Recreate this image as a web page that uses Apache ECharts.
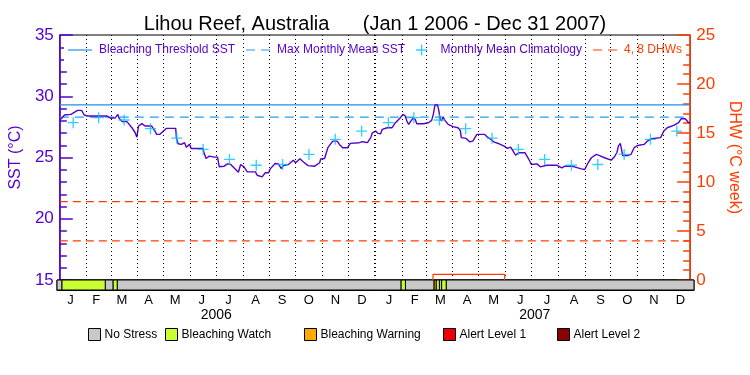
<!DOCTYPE html>
<html><head><meta charset="utf-8">
<script src="https://cdn.jsdelivr.net/npm/echarts@6/dist/echarts.min.js"></script>
<style>html,body{margin:0;padding:0;background:#fff}#c{width:750px;height:375px}</style>
</head><body><div id="c"></div>
<script>
const titleText = 'Lihou Reef, Australia      (Jan 1 2006 - Dec 31 2007)';
const monthStarts = [0,31,59,90,120,151,181,212,243,273,304,334,365,396,424,455,485,516,546,577,608,638,669,699,730];
const monthLetters = ['J','F','M','A','M','J','J','A','S','O','N','D','J','F','M','A','M','J','J','A','S','O','N','D'];
const yearLabels = ['2006','2007'];
const yearMids = [182.5, 547.5];
const sstDays = [0,5.4,12.9,20.6,25.2,28.3,32,43.5,54.9,58.7,64.4,67.2,68.7,72.1,77.8,83.5,87.3,89.2,91.2,95,98.7,106.4,110.2,112.1,115.9,123.6,134.2,135,137,140.7,144.5,146.5,150.2,152.2,165.6,167.4,169.3,173.1,178.8,182.7,184.6,190.3,194.2,197.9,201.7,206.8,209.4,213.2,217.1,226.6,228.5,234.2,238,241.8,243.7,249.4,253.2,256.3,258.9,264.7,270.4,273.1,278,281.8,287.5,295.2,300.9,302.1,306.6,310.4,316.1,321.2,323.8,327.6,333.3,336.4,346.7,350.5,356.2,360.1,361.9,365.8,368.4,371.5,373.4,379.1,384.8,388.7,394.4,397.4,400.1,401.9,403.9,405.8,408.8,411.6,413.4,421.1,426.8,430.6,432.5,434.5,437.4,439,440.2,442,444,445.9,449.7,455.4,461.1,463.8,464.9,470.6,474.5,478.3,482.9,491.7,495.4,499.2,503.1,508.8,514.5,518.3,522.1,526,527.8,531.7,538.6,543.2,546.1,552.6,556.4,564.1,575.5,581.3,585,587,592.7,604.1,607.9,611.8,615.6,621.3,625.1,630.8,638.5,642.3,645.3,646.8,649.1,650.7,651.9,657.6,661.4,665.1,669,676.6,680.5,682.3,685.1,695.7,699.5,703.4,710.9,716.6,719.4,724.3,728.1,730];
const sstValues = [28.03,28.47,28.52,28.85,28.85,28.47,28.39,28.39,28.39,28.2,28.25,28.52,28.2,27.93,27.93,27.43,27.02,26.66,27.57,27.76,27.57,27.57,27.16,26.89,26.89,27.38,27.38,26.62,26.12,26.07,26.21,25.84,26.07,25.74,25.74,25.3,24.92,25.11,25.03,25.03,24.24,24.29,24.48,24.43,24.16,23.8,24.43,24.24,23.83,23.83,23.55,23.42,23.75,23.75,24.07,24.51,24.48,24.1,24.34,24.43,24.78,24.57,24.89,24.65,24.34,24.29,24.57,24.89,24.92,25.8,26.34,26.34,26.07,25.8,25.8,26.15,26.21,26.29,26.21,26.62,27.02,27.16,26.97,26.94,27.3,27.43,27.43,27.84,28.25,28.52,28.39,27.98,27.7,27.84,28.2,28.11,27.76,27.76,27.84,28.03,28.52,29.29,29.29,28.8,28.2,27.98,28.3,28.03,27.7,27.52,27.43,27.21,26.62,26.56,26.29,26.34,26.89,26.89,26.66,26.48,26.25,26.12,25.93,25.74,25.84,25.39,25.19,25.39,25.39,24.84,24.43,24.48,24.24,24.37,24.37,24.16,24.29,24.43,24.29,24.07,24.02,24.57,24.98,25.25,25.16,24.98,24.78,25.06,25.43,25.93,26.15,26.07,25.16,25.16,25.25,25.8,25.98,26.07,26.34,26.21,26.53,26.62,27.16,27.43,27.62,27.84,28.16,28.16,27.84,27.87];
const climatology = [27.84,28.25,28.06,27.35,26.58,25.66,24.84,24.37,24.43,25.25,26.48,27.16];
const bleachingThreshold = 29.3;
const maxMonthlyMean = 28.3;
const dhwLevels = [4, 8];
const dhwDays = [432.2, 432.2, 515.2, 515.2];
const dhwValues = [0, 0.58, 0.58, 0];
const stressNames = ['No Stress','Bleaching Watch','Bleaching Warning','Alert Level 1','Alert Level 2'];
const stressColors = ['#c8c8c8','#c8ff32','#ffaa00','#ee0000','#8b0000'];
const stressStart = [0, 5.7, 55.3, 64.4, 69, 394.4, 399.3, 432.2, 434.5, 438.2, 440.8, 446];
const stressEnd   = [5.7, 55.3, 64.4, 69, 394.4, 399.3, 432.2, 434.5, 438.2, 440.8, 446, 730];
const stressLevel = [0, 1, 0, 1, 0, 1, 0, 2, 1, 0, 1, 0];

const PURPLE = '#5500cc', RED = '#ff3c00', FONT = 'Liberation Sans, Arial, sans-serif';
const monthMids = monthLetters.map((_, i) => (monthStarts[i] + monthStarts[i + 1]) / 2);
const totalDays = monthStarts[monthStarts.length - 1];

const plusIcon = 'path://M4.4,0 H5.6 V4.4 H10 V5.6 H5.6 V10 H4.4 V5.6 H0 V4.4 H4.4 Z';
const solidIcon = 'path://M0,0 H24 V1.2 H0 Z';
const dashIcon = 'path://M0,0 H9 V1.2 H0 Z M15,0 H24 V1.2 H15 Z';

const series = [
  {
    name: 'SST', type: 'line', xAxisIndex: 0, yAxisIndex: 0, symbol: 'none', z: 4,
    color: PURPLE, lineStyle: { width: 1.4, color: PURPLE },
    data: sstDays.map((d, i) => [d, sstValues[i]]),
    markLine: {
      silent: true, symbol: ['none', 'none'], label: { show: false }, animation: false,
      lineStyle: { type: [1, 3], color: '#000', width: 1 },
      data: monthStarts.slice(1, -1).map(d => ({ xAxis: d, lineStyle: { type: [1, 3], color: '#000', width: d === 365 ? 2 : 1 } }))
    }
  },
  {
    name: 'Bleaching Threshold SST', type: 'line', xAxisIndex: 0, yAxisIndex: 0, symbol: 'none', z: 3,
    color: '#1e8ff0', lineStyle: { width: 1.2, color: '#1e8ff0' },
    data: [[0, bleachingThreshold], [totalDays, bleachingThreshold]]
  },
  {
    name: 'Max Monthly Mean SST', type: 'line', xAxisIndex: 0, yAxisIndex: 0, symbol: 'none', z: 3,
    color: '#1ea0f5', lineStyle: { width: 1.2, color: '#1ea0f5', type: [9, 6] },
    data: [[0, maxMonthlyMean], [totalDays, maxMonthlyMean]]
  },
  {
    name: 'Monthly Mean Climatology', type: 'scatter', xAxisIndex: 0, yAxisIndex: 0, z: 5,
    symbol: plusIcon, symbolSize: 11, color: '#00c0ff',
    data: monthMids.map((m, i) => [m, climatology[i % 12]])
  }
];
dhwLevels.forEach(lv => series.push({
  name: '4, 8 DHWs', type: 'line', xAxisIndex: 0, yAxisIndex: 1, symbol: 'none', z: 3,
  color: RED, lineStyle: { width: 1.2, color: RED, type: [8, 5] },
  data: [[0, lv], [totalDays, lv]]
}));
series.push({
  name: 'DHW', type: 'line', xAxisIndex: 0, yAxisIndex: 1, symbol: 'none', z: 6,
  color: RED, lineStyle: { width: 1.2, color: RED },
  data: dhwDays.map((d, i) => [d, dhwValues[i]])
});
stressNames.forEach((nm, lv) => {
  const segs = [];
  stressLevel.forEach((l, i) => { if (l === lv) segs.push([stressStart[i], stressEnd[i]]); });
  series.push({
    name: nm, type: 'custom', xAxisIndex: 1, yAxisIndex: 2,
    itemStyle: { color: stressColors[lv], borderColor: '#000', borderWidth: 1 },
    encode: { x: [0, 1] },
    data: segs,
    renderItem: (params, api) => {
      const p0 = api.coord([api.value(0), 1]);
      const p1 = api.coord([api.value(1), 0]);
      return { type: 'rect', shape: { x: p0[0], y: p0[1], width: p1[0] - p0[0], height: p1[1] - p0[1] },
        style: { fill: stressColors[lv], stroke: '#000', lineWidth: 1 } };
    }
  });
});
const bottomLegendLeft = [86, 163, 302, 441, 555];

const legends = [
  {
    left: 64, top: 37, padding: [7, 4, 7, 4], itemGap: 11, itemWidth: 24, itemHeight: 11, backgroundColor: '#fff',
    symbolKeepAspect: true,
    textStyle: { fontSize: 12, color: PURPLE, fontFamily: FONT, padding: [0, 0, 0, 2] },
    data: [
      { name: 'Bleaching Threshold SST', icon: solidIcon },
      { name: 'Max Monthly Mean SST', icon: dashIcon },
      { name: 'Monthly Mean Climatology', icon: plusIcon },
      { name: '4, 8 DHWs', icon: dashIcon, textStyle: { color: RED } }
    ]
  }
];
stressNames.forEach((n, i) => legends.push({
  left: bottomLegendLeft[i], top: 326, padding: 2, itemWidth: 12, itemHeight: 12, icon: 'rect', itemGap: 0,
  itemStyle: { borderColor: '#000', borderWidth: 1 },
  textStyle: { fontSize: 12, color: '#000', fontFamily: FONT, padding: [0, 0, 0, -1] },
  data: [n]
}));

const chart = echarts.init(document.getElementById('c'), null, { renderer: 'canvas' });
chart.setOption({
  animation: false,
  backgroundColor: '#fff',
  textStyle: { fontFamily: FONT },
  title: { text: titleText, left: 'center', top: 9, textStyle: { fontSize: 20, fontWeight: 'normal', color: '#000', fontFamily: FONT } },
  legend: legends,
  grid: [
    { left: 57, width: 637, top: 35, height: 245, show: true, borderColor: '#000', borderWidth: 1, backgroundColor: 'transparent' },
    { left: 57, width: 637, top: 280, height: 10, show: true, borderColor: '#000', borderWidth: 1 }
  ],
  xAxis: [
    { gridIndex: 0, type: 'value', min: 0, max: totalDays, show: false },
    {
      gridIndex: 1, type: 'value', min: 0, max: totalDays, position: 'bottom',
      axisLine: { show: true, onZero: false, lineStyle: { color: '#000' } },
      axisTick: { show: false }, splitLine: { show: false },
      axisLabel: {
        customValues: monthMids, margin: 4, fontSize: 13, color: '#000', fontFamily: FONT,
        formatter: v => { const i = monthMids.findIndex(m => Math.abs(m - v) < 0.01); return i >= 0 ? monthLetters[i] : ''; }
      }
    },
    {
      gridIndex: 1, type: 'value', min: 0, max: totalDays, position: 'bottom',
      axisLine: { show: false, onZero: false }, axisTick: { show: false }, splitLine: { show: false },
      axisLabel: {
        customValues: yearMids, margin: 18, fontSize: 14, color: '#000', fontFamily: FONT,
        formatter: v => { const i = yearMids.findIndex(m => Math.abs(m - v) < 0.01); return i >= 0 ? yearLabels[i] : ''; }
      }
    }
  ],
  yAxis: [
    {
      gridIndex: 0, type: 'value', position: 'left', min: 15, max: 35, interval: 5,
      axisLine: { show: true, onZero: false, lineStyle: { color: PURPLE, width: 1.5 } },
      axisTick: { show: true, inside: true, length: 13, lineStyle: { color: PURPLE, width: 1.5 } },
      minorTick: { show: true, splitNumber: 5, length: 7, lineStyle: { color: PURPLE, width: 1.5 } },
      splitLine: { show: false },
      axisLabel: { color: PURPLE, fontSize: 17, margin: 6, fontFamily: FONT },
      name: 'SST (°C)', nameLocation: 'middle', nameGap: 33,
      nameTextStyle: { color: PURPLE, fontSize: 16, fontFamily: FONT }
    },
    {
      gridIndex: 0, type: 'value', position: 'right', min: 0, max: 25, interval: 5,
      axisLine: { show: true, onZero: false, lineStyle: { color: RED, width: 1.5 } },
      axisTick: { show: true, inside: true, length: 13, lineStyle: { color: RED, width: 1.5 } },
      minorTick: { show: true, splitNumber: 5, length: 7, lineStyle: { color: RED, width: 1.5 } },
      splitLine: { show: false },
      axisLabel: { color: RED, fontSize: 17, margin: 6, fontFamily: FONT },
      name: 'DHW (°C week)', nameLocation: 'middle', nameGap: 29, nameRotate: -90,
      nameTextStyle: { color: RED, fontSize: 16, fontFamily: FONT }
    },
    { gridIndex: 1, type: 'value', min: 0, max: 1, show: false }
  ],
  series: series
});
</script></body></html>
